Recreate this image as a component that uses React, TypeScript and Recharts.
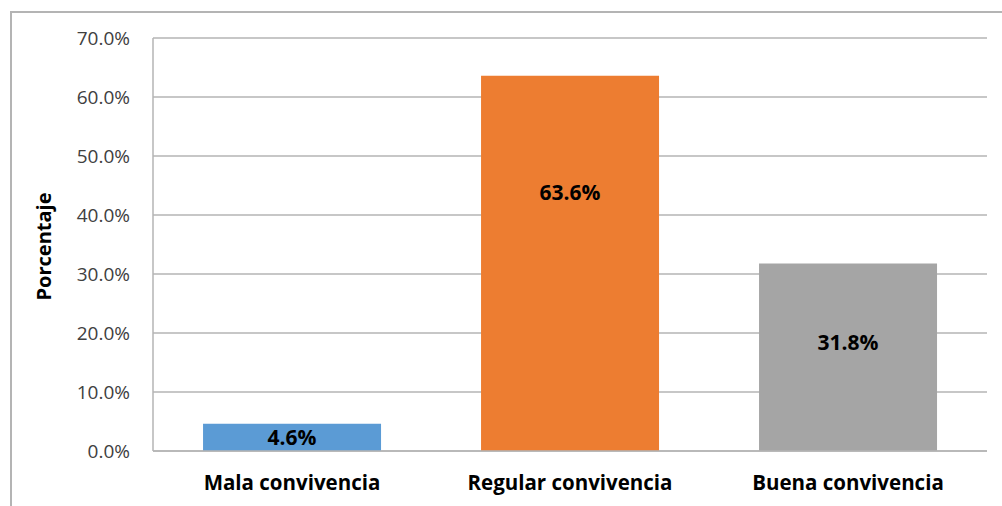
import React from 'react';
import { BarChart, Bar, XAxis, YAxis, CartesianGrid, Cell, LabelList } from 'recharts';

// chart values
const categories = ['Mala convivencia', 'Regular convivencia', 'Buena convivencia'];
const percentages = [4.6, 63.6, 31.8];
const yTicks = [0, 10, 20, 30, 40, 50, 60, 70];

const barColors = ['#5b9bd5', '#ed7d31', '#a5a5a5'];
const gridColor = '#b4b4b4';
const font = '"Open Sans", Lato, sans-serif';

// the labels in the original sit a bit above the middle on the taller bars
const labelFraction = [0.5, 0.31, 0.42];

const data = categories.map((name, i) => ({ name, value: percentages[i] }));

const ValueLabel = (props: any) => {
  const { x, y, width, height, value, index } = props;
  const cy = y + height * labelFraction[index];
  return (
    <text
      x={x + width / 2}
      y={cy}
      textAnchor="middle"
      dominantBaseline="central"
      fontFamily={font}
      fontWeight={700}
      fontSize={21}
      fill="#000"
    >
      {`${value.toFixed(1)}%`}
    </text>
  );
};

const AxisTitle = (props: any) => {
  const { viewBox } = props;
  const cx = viewBox.x + 23;
  const cy = viewBox.y + viewBox.height / 2 + 2;
  return (
    <text
      x={cx}
      y={cy}
      transform={`rotate(-90, ${cx}, ${cy})`}
      textAnchor="middle"
      dominantBaseline="central"
      fontFamily={font}
      fontWeight={700}
      fontSize={20}
      fill="#000"
    >
      Porcentaje
    </text>
  );
};

export default function App() {
  return (
    <div style={{ position: 'absolute', left: 0, top: 0, width: 1002, height: 506, background: '#fff', overflow: 'hidden' }}>
      <div
        style={{
          position: 'absolute',
          left: 10,
          top: 11,
          width: 1000,
          height: 500,
          borderTop: `2px solid ${gridColor}`,
          borderLeft: `2px solid ${gridColor}`,
        }}
      />
      <div style={{ position: 'absolute', left: 0, top: 0 }}>
        <BarChart
          width={1002}
          height={506}
          data={data}
          margin={{ top: 38, right: 15, bottom: 0, left: 20 }}
          barCategoryGap="18%"
        >
          <CartesianGrid vertical={false} stroke={gridColor} strokeWidth={1.5} />
          <XAxis
            dataKey="name"
            height={55}
            axisLine={{ stroke: gridColor, strokeWidth: 1.5 }}
            tickLine={false}
            tickSize={0}
            tickMargin={24}
            tick={{ fontFamily: font, fontWeight: 700, fontSize: 20.5, fill: '#000' }}
            interval={0}
          />
          <YAxis
            width={133}
            domain={[0, 70]}
            ticks={yTicks}
            axisLine={{ stroke: gridColor, strokeWidth: 1.5 }}
            tickLine={false}
            tickSize={0}
            tickMargin={23}
            tickFormatter={(v: number) => `${v.toFixed(1)}%`}
            tick={{ fontFamily: font, fontSize: 19, fill: '#404040' }}
            label={{ content: AxisTitle }}
          />
          <Bar dataKey="value" isAnimationActive={false}>
            {data.map((d, i) => (
              <Cell key={d.name} fill={barColors[i]} />
            ))}
            <LabelList dataKey="value" content={ValueLabel} />
          </Bar>
        </BarChart>
      </div>
    </div>
  );
}
